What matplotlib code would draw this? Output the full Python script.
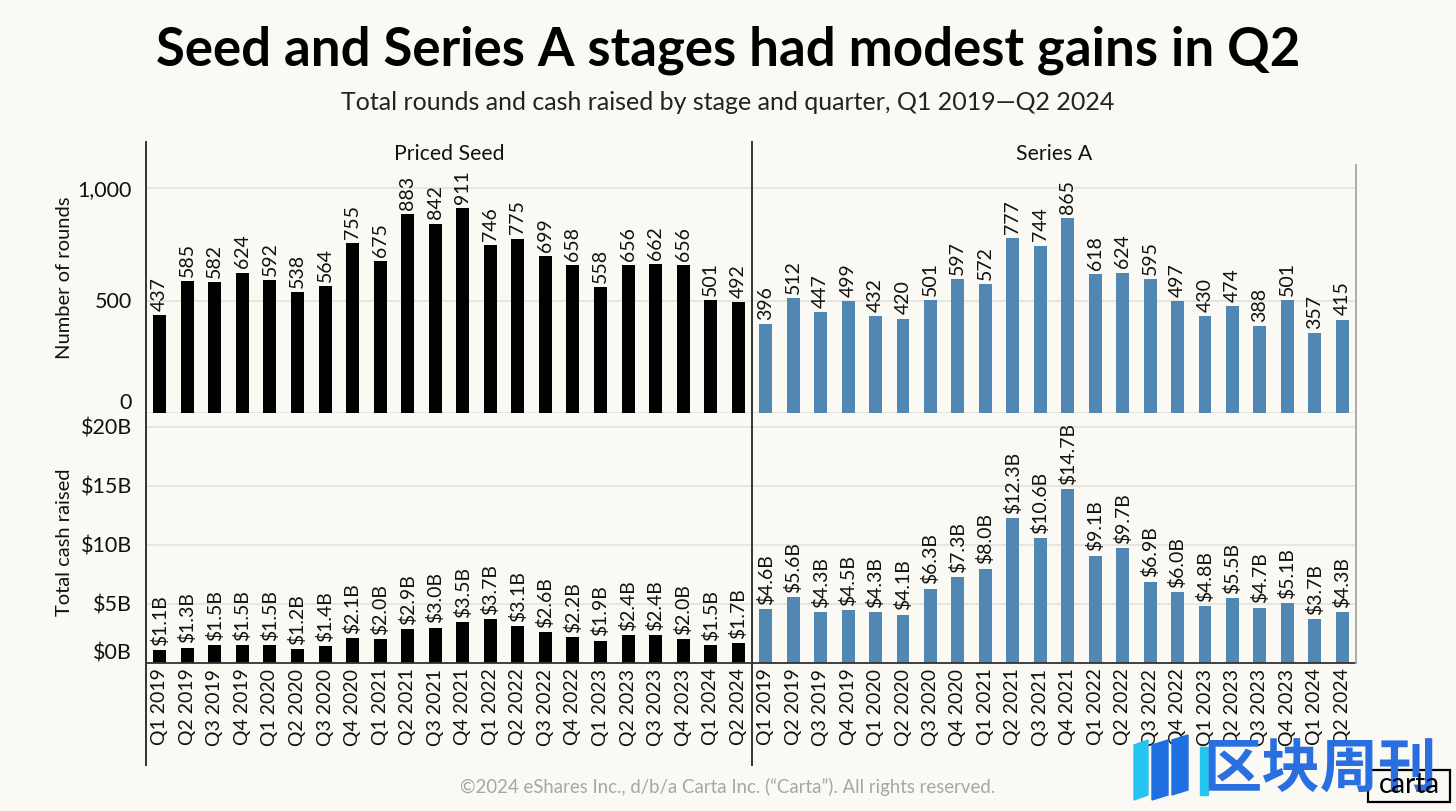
import numpy as np
import matplotlib
matplotlib.use("Agg")
import matplotlib.pyplot as plt
import matplotlib.transforms as mtransforms
from matplotlib.patches import Rectangle, Polygon
from matplotlib.ticker import FuncFormatter

# Data
quarters = ["Q1 2019", "Q2 2019", "Q3 2019", "Q4 2019", "Q1 2020", "Q2 2020",
            "Q3 2020", "Q4 2020", "Q1 2021", "Q2 2021", "Q3 2021", "Q4 2021",
            "Q1 2022", "Q2 2022", "Q3 2022", "Q4 2022", "Q1 2023", "Q2 2023",
            "Q3 2023", "Q4 2023", "Q1 2024", "Q2 2024"]

seed_rounds = [437, 585, 582, 624, 592, 538, 564, 755, 675, 883, 842, 911,
               746, 775, 699, 658, 558, 656, 662, 656, 501, 492]
seriesa_rounds = [396, 512, 447, 499, 432, 420, 501, 597, 572, 777, 744, 865,
                  618, 624, 595, 497, 430, 474, 388, 501, 357, 415]

seed_cash = [1.1, 1.3, 1.5, 1.5, 1.5, 1.2, 1.4, 2.1, 2.0, 2.9, 3.0, 3.5,
             3.7, 3.1, 2.6, 2.2, 1.9, 2.4, 2.4, 2.0, 1.5, 1.7]
seriesa_cash = [4.6, 5.6, 4.3, 4.5, 4.3, 4.1, 6.3, 7.3, 8.0, 12.3, 10.6, 14.7,
                9.1, 9.7, 6.9, 6.0, 4.8, 5.5, 4.7, 5.1, 3.7, 4.3]

stages = ["Priced Seed", "Series A"]

BG = "#fbf9f4"
GRID = "#e4e1db"
BLACK = "#000000"
BLUE = "#5087b3"
FONT = "Lato"

plt.rcParams['font.family'] = [FONT, 'DejaVu Sans']

fig = plt.figure(figsize=(14.56, 8.11), dpi=100, facecolor=BG)

W, H = 1456, 811
def box(x0, y0, x1, y1):
    # pixel box -> figure fraction [left, bottom, width, height]
    return [x0 / W, 1 - y1 / H, (x1 - x0) / W, (y1 - y0) / H]

def fx(px):
    return px / W

def fy(py):
    return 1 - py / H

ax_tl = fig.add_axes(box(146, 143, 752, 413))
ax_tr = fig.add_axes(box(752, 143, 1356, 413))
ax_bl = fig.add_axes(box(146, 421, 752, 663))
ax_br = fig.add_axes(box(752, 421, 1356, 663))

x = np.arange(len(quarters))

panels = [
    (ax_tl, seed_rounds, BLACK, "rounds"),
    (ax_tr, seriesa_rounds, BLUE, "rounds"),
    (ax_bl, seed_cash, BLACK, "cash"),
    (ax_br, seriesa_cash, BLUE, "cash"),
]

for ax, vals, col, kind in panels:
    ax.set_facecolor(BG)
    bars = ax.bar(x, vals, width=0.47, color=col, zorder=3)
    if kind == "rounds":
        labels = [f"{v}" for v in vals]
        ax.set_ylim(0, 1200)
        ax.set_yticks([0, 500, 1000])
    else:
        labels = [f"${v:.1f}B" for v in vals]
        ax.set_ylim(0, 20.5)
        ax.set_yticks([0, 5, 10, 15, 20])
    ax.bar_label(bars, labels=labels, rotation=90, padding=3, fontsize=14,
                 color="#111111", family=FONT)
    ax.set_xlim(-0.5, len(quarters) - 0.5)
    ax.grid(axis="y", color=GRID, linewidth=1.2, zorder=0)
    for s in ax.spines.values():
        s.set_visible(False)
    ax.tick_params(axis="both", length=0, labelsize=15.5, colors="#111111")

ax_tl.set_xticks([])
ax_tr.set_xticks([])
ax_tr.set_yticklabels([])
ax_br.set_yticklabels([])
ax_tl.yaxis.set_major_formatter(FuncFormatter(lambda v, p: f"{int(v):,}"))
ax_bl.yaxis.set_major_formatter(FuncFormatter(lambda v, p: f"${int(v)}B"))
ax_tl.tick_params(axis="y", pad=10)
ax_bl.tick_params(axis="y", pad=10)

for ax in (ax_bl, ax_br):
    ax.set_xticks(x)
    ax.set_xticklabels(quarters, rotation=90, fontsize=14, va="top", ha="center")
    ax.tick_params(axis="x", pad=4)
    ax.spines["bottom"].set_visible(True)
    ax.spines["bottom"].set_color("#333333")
    ax.spines["bottom"].set_linewidth(1.3)
    ax.spines["bottom"].set_zorder(4)

# the zero labels sit a bit above their gridline
lift = mtransforms.ScaledTranslation(0, 12 / 100, fig.dpi_scale_trans)
for ax in (ax_tl, ax_bl):
    lab = ax.yaxis.get_major_ticks()[0].label1
    lab.set_transform(lab.get_transform() + lift)

ax_tl.set_ylabel("Number of rounds", fontsize=14.5, color="#111111")
ax_bl.set_ylabel("Total cash raised", fontsize=14.5, color="#111111")
ax_tl.yaxis.set_label_coords(-0.121, 0.5)
ax_bl.yaxis.set_label_coords(-0.121, 0.5)

# facet titles
for ax, name in zip((ax_tl, ax_tr), stages):
    ax.text(0.5, 0.96, name, transform=ax.transAxes, ha="center", va="center",
            fontsize=15.3, color="#111111")

# facet separator lines (left spine and middle divider) + right border
for px in (146, 752):
    fig.add_artist(plt.Line2D([fx(px), fx(px)], [fy(142), fy(765)],
                              transform=fig.transFigure, color="#333333",
                              linewidth=1.4))
fig.add_artist(plt.Line2D([fx(1356), fx(1356)], [fy(165), fy(663)],
                          transform=fig.transFigure, color="#a8a6a2",
                          linewidth=1.3))

# titles
fig.text(0.5, fy(50), "Seed and Series A stages had modest gains in Q2",
         ha="center", va="center", fontsize=38, fontweight="bold", color=BLACK)
fig.text(0.5, fy(102), "Total rounds and cash raised by stage and quarter, Q1 2019\u2014Q2 2024",
         ha="center", va="center", fontsize=18, color="#222222")

# footer
fig.text(0.5, fy(787), "\u00a92024 eShares Inc., d/b/a Carta Inc. (\u201cCarta\u201d). All rights reserved.",
         ha="center", va="center", fontsize=13.4, color="#a8a6a2")

# watermark overlay (icon + text)
fig.add_artist(Polygon([(fx(1134), fy(745)), (fx(1148), fy(740)), (fx(1148), fy(795)), (fx(1134), fy(800))],
                       closed=True, transform=fig.transFigure, color="#27c4f0"))
fig.add_artist(Polygon([(fx(1152), fy(745)), (fx(1168), fy(740)), (fx(1168), fy(795)), (fx(1152), fy(800))],
                       closed=True, transform=fig.transFigure, color="#1e6fe0"))
fig.add_artist(Polygon([(fx(1172), fy(740)), (fx(1188), fy(735)), (fx(1188), fy(790)), (fx(1172), fy(795))],
                       closed=True, transform=fig.transFigure, color="#1e6fe0"))
fig.add_artist(Rectangle((fx(1200), fy(795)), 8 / W, 48 / H,
                         transform=fig.transFigure, color="#27c4f0"))
fig.text(fx(1320), fy(771), "区块周刊", ha="center", va="center", fontsize=42,
         color="#2a6fe0", family=["Noto Sans CJK SC", "DejaVu Sans"],
         fontweight="bold")

# carta logo box
fig.add_artist(Rectangle((fx(1368), fy(802)), 82 / W, 32 / H, transform=fig.transFigure,
                         facecolor=BG, edgecolor=BLACK, linewidth=1.6))
fig.text(fx(1409), fy(785), "carta", ha="center", va="center", fontsize=20,
         color=BLACK)

fig.savefig("out.png", dpi=100, facecolor=BG)
